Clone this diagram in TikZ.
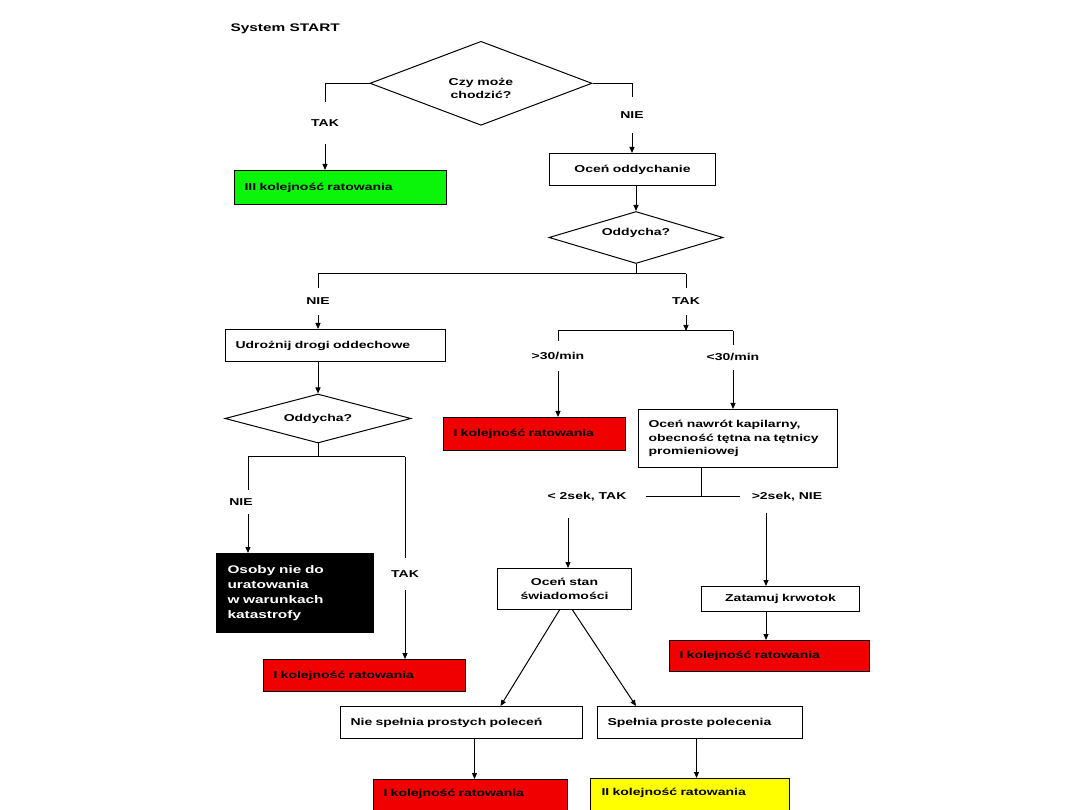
\documentclass[tikz,border=0pt]{standalone}
\usepackage{fontspec}
\setmainfont{Liberation Sans}[FakeStretch=1.4]
\usetikzlibrary{shapes.geometric,arrows.meta,calc}
\definecolor{fgreen}{RGB}{10,245,10}
\definecolor{fred}{RGB}{240,0,0}
\definecolor{fyellow}{RGB}{255,255,0}
\begin{document}
\begin{tikzpicture}[x=1pt,y=-1pt,
  every node/.style={font=\bfseries\fontsize{10}{12}\selectfont},
  ln/.style={line width=1pt, draw=black},
  arr/.style={ln, -{Triangle[length=6pt,width=5pt]}},
  bx/.style={draw=black, line width=1pt, anchor=north west, inner ysep=0pt, inner xsep=10pt, align=left},
  cbx/.style={bx, align=center},
  bot/.style={bx, inner ysep=8.5pt, text height=8pt, text depth=12pt},
  dia/.style={diamond, draw=black, line width=1pt, inner sep=0pt},
  dtxt/.style={align=center, inner sep=0pt, font=\bfseries\fontsize{10}{13}\selectfont},
  lbl/.style={inner xsep=2pt, inner ysep=#1, text height=7pt, text depth=0pt},
  lbl/.default=10pt
]
\useasboundingbox (0,0) rectangle (1080,810);
\fill[white] (0,0) rectangle (1080,810);
\clip (0,0) rectangle (1080,810);

\node[anchor=west, font=\bfseries\fontsize{11}{13}\selectfont] (title) at (227,29) {System START};

% first decision
\node[dia, minimum width=222pt, minimum height=84pt] (d1) at (481,83.3) {};
\node[dtxt] (d1t) at (481,88) {Czy może\\chodzić?};

\node[lbl=17pt] (tak1) at (325,123) {TAK};
\node[bx, text width=192pt, minimum height=34pt, fill=fgreen] (green) at (234,170) {III kolejność ratowania};
\draw[ln] (d1.west) -| (tak1.north);
\draw[arr] (tak1.south) -- (tak1.south |- green.north);

\node[lbl=14.5pt] (nie1) at (632,115) {NIE};
\node[cbx, text width=146pt, minimum height=32pt] (ocen1) at (549,153) {Oceń oddychanie};
\draw[ln] (d1.east) -| (nie1.north);
\draw[arr] (nie1.south) -- (nie1.south |- ocen1.north);

% breathing
\node[dia, minimum width=174pt, minimum height=52pt] (odd1) at (636,237.5) {};
\node[dtxt] (odd1t) at (636,233) {Oddycha?};
\draw[arr] (ocen1.south -| odd1.north) -- (odd1.north);

\coordinate (j1) at (636,274);
\coordinate (j1l) at (318,274);
\coordinate (j1r) at (686,274);
\draw[ln] (odd1.south) -- (j1);
\draw[ln] (j1l) -- (j1r);

% left branch
\node[lbl] (nie2) at (318,301.5) {NIE};
\node[bx, text width=200pt, minimum height=32pt] (udr) at (225,329) {Udrożnij drogi oddechowe};
\draw[ln] (j1l) -- (nie2.north);
\draw[arr] (nie2.south) -- (nie2.south |- udr.north);

\node[dia, minimum width=186pt, minimum height=49pt] (d2) at (318,418.5) {};
\node[dtxt] (d2t) at (318,419) {Oddycha?};
\draw[arr] (udr.south -| d2.north) -- (d2.north);

\coordinate (j4) at (318,457);
\coordinate (j4l) at (248,457);
\coordinate (j4r) at (405,457);
\draw[ln] (d2.south) -- (j4);
\draw[ln] (j4l) -- (j4r);

\node[lbl=8.5pt] (nie3) at (241,502) {NIE};
\node[bx, inner xsep=11pt, text width=135pt, minimum height=79pt, fill=black, text=white,
      font=\bfseries\fontsize{11}{15}\selectfont] (black) at (216,553)
      {Osoby nie do\\uratowania\\w warunkach\\katastrofy};
\draw[ln] (j4l) -- (j4l |- nie3.north);
\draw[arr] (j4l |- nie3.south) -- (j4l |- black.north);

\node[lbl=12.5pt] (tak3) at (405,574) {TAK};
\node[bx, text width=182pt, minimum height=32pt, fill=fred] (red2) at (263,659) {I kolejność ratowania};
\draw[ln] (j4r) -- (tak3.north);
\draw[arr] (tak3.south) -- (tak3.south |- red2.north);

% right branch
\node[lbl] (tak2) at (686,301.5) {TAK};
\coordinate (j2) at (686,331);
\coordinate (j2l) at (558,331);
\coordinate (j2r) at (733,331);
\draw[ln] (j1r) -- (tak2.north);
\draw[arr] (tak2.south) -- (j2);
\draw[ln] (j2l) -- (j2r);

\node[lbl=11.5pt] (gt30) at (558,356) {>30/min};
\node[bx, text width=162pt, minimum height=33pt, fill=fred] (red1) at (443,417) {I kolejność ratowania};
\draw[ln] (j2l) -- (gt30.north);
\draw[arr] (gt30.south) -- (gt30.south |- red1.north);

\node[lbl=9pt] (lt30) at (733,357.5) {<30/min};
\node[bx, text width=179pt, minimum height=58pt, font=\bfseries\fontsize{10}{13.5}\selectfont] (kap) at (638,409)
      {Oceń nawrót kapilarny,\\obecność tętna na tętnicy\\promieniowej};
\draw[ln] (j2r) -- (lt30.north);
\draw[arr] (lt30.south) -- (lt30.south |- kap.north);

\coordinate (j3) at (701,496);
\coordinate (j3l) at (646,496);
\coordinate (j3r) at (740,496);
\draw[ln] (kap.south -| j3) -- (j3);
\draw[ln] (j3l) -- (j3r);

\node[lbl=2pt] (lt2) at (587,496) {< 2sek, TAK};
\node[lbl=2pt] (gt2) at (787,496) {>2sek, NIE};

\coordinate (c1) at (568,518);
\coordinate (c2) at (766,513);

\node[cbx, text width=114pt, minimum height=41pt, font=\bfseries\fontsize{10}{14}\selectfont] (stan) at (497,568) {Oceń stan\\świadomości};
\draw[arr] (c1) -- (c1 |- stan.north);

\node[cbx, text width=138pt, minimum height=25pt] (zat) at (701,586) {Zatamuj krwotok};
\node[bx, text width=180pt, minimum height=31pt, fill=fred] (red3) at (669,640) {I kolejność ratowania};
\draw[arr] (c2) -- (c2 |- zat.north);
\draw[arr] (c2 |- zat.south) -- (c2 |- red3.north);

% consciousness
\node[bx, text width=222pt, minimum height=32pt] (nsp) at (340,706) {Nie spełnia prostych poleceń};
\node[bx, text width=185pt, minimum height=32pt] (sp) at (597,706) {Spełnia proste polecenia};
\draw[arr] ([xshift=-5pt]stan.south) -- ([xshift=39pt]nsp.north);
\draw[arr] ([xshift=8pt]stan.south) -- ([xshift=-64pt]sp.north);

\node[bot, text width=174pt, fill=fred] (red4) at (373,779) {I kolejność ratowania};
\node[bot, inner xsep=11pt, text width=177pt, fill=fyellow] (yel) at (590,778) {II kolejność ratowania};
\coordinate (a4) at ([xshift=13pt]nsp.south);
\coordinate (a5) at ([xshift=-3.5pt]sp.south);
\draw[arr] (a4) -- (a4 |- red4.north);
\draw[arr] (a5) -- (a5 |- yel.north);
\end{tikzpicture}
\end{document}
